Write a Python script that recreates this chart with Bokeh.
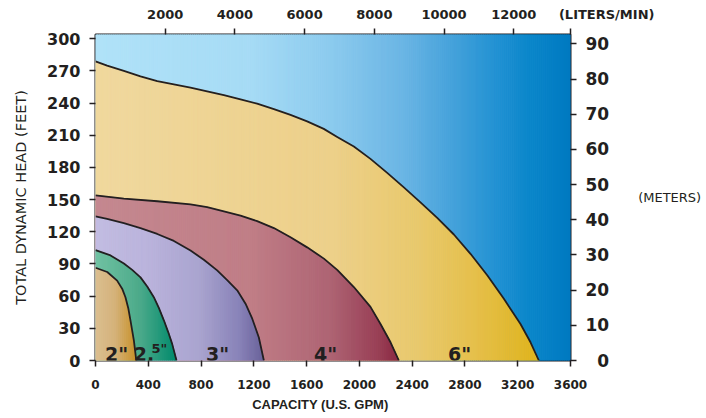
import numpy as np
from bokeh.plotting import figure
from bokeh.models import Range1d, LinearAxis, FixedTicker
from bokeh.embed import file_html
from bokeh.resources import INLINE
from bokeh.core.properties import value

# ---------------- data ----------------
gpm_6in = [0, 88, 215, 341, 468, 594, 720, 846, 973, 1099, 1225, 1352, 1478, 1604, 1730, 1832,
           1958, 2084, 2211, 2337, 2463, 2590, 2716, 2842, 2969, 3095, 3221, 3297, 3360]
ft_6in = [279, 275, 270, 265, 260.5, 257.5, 254.5, 251, 247.5, 243.5, 239.5, 234.5, 229, 223, 216, 208.5,
          199.5, 188, 175, 161.5, 147.5, 133, 117.5, 99.5, 79.5, 57.5, 34, 17, 0]

gpm_4in = [0, 215, 468, 720, 846, 973, 1099, 1225, 1352, 1478, 1604, 1731, 1832, 1958, 2084, 2160, 2236, 2299]
ft_4in = [154, 151, 148.5, 145.5, 143, 139, 135, 130, 123.5, 115, 105.5, 95, 84.5, 68.5, 50, 34, 17, 0]

gpm_3in = [0, 88, 215, 341, 468, 594, 720, 821, 922, 998, 1074, 1137, 1188, 1238, 1276]
ft_3in = [134.5, 132, 128, 123.5, 118, 111.5, 102.5, 94, 84, 75, 65.5, 53, 39, 21.5, 0]

gpm_25in = [0, 114, 215, 278, 341, 392, 442, 480, 518, 551, 581, 614]
ft_25in = [103, 98, 90.5, 84.5, 77.5, 69, 59, 49, 37.5, 26.5, 15.5, 0]

gpm_2in = [0, 89, 164, 202, 227, 248, 265, 291, 309]
ft_2in = [86.5, 82.5, 74.5, 67, 59, 49, 37.5, 18.5, 0]

size_labels = ['2"', '3"', '4"', '6"']
size_label_gpm = [159, 925, 1744, 2760]

feet_ticks = [0, 30, 60, 90, 120, 150, 180, 210, 240, 270, 300]
gpm_ticks = [0, 400, 800, 1200, 1600, 2000, 2400, 2800, 3200, 3600]
lpm_ticks = [2000, 4000, 6000, 8000, 10000, 12000]
meter_ticks = [0, 10, 20, 30, 40, 50, 60, 70, 80, 90]
lpm_unit = "(LITERS/MIN)"

GPM_MAX = 3600
FT_MAX = 304
LPM_PER_GPM = 3.78541
FT_PER_M = 3.28084
LPM_MAX = GPM_MAX * LPM_PER_GPM

# ---------------- styles ----------------
INK = "#231f20"
NBSP = "\u00a0"
sky_stops = [(0, "#b0e2f8"), (1175, "#a6dbf5"), (1781, "#8ccbee"), (2312, "#6cb6e5"),
             (2767, "#3f9fd9"), (3070, "#1f90d2"), (3297, "#0a86ca"), (3600, "#0079c1")]
stops_6 = [(0, "#f0d89e"), (1781, "#edd08a"), (2463, "#e9c96c"), (2918, "#e5bf48"), (3360, "#e0b41c")]
stops_4 = [(0, "#c48890"), (1175, "#c07e87"), (1781, "#ae6474"), (2160, "#983e55"), (2300, "#8a2842")]
stops_3 = [(0, "#c2bde2"), (417, "#bab3dc"), (796, "#a9a4cf"), (1099, "#8882b8"), (1276, "#6a629a")]
stops_25 = [(0, "#72c3a3"), (341, "#4caa8a"), (614, "#008a6c")]
stops_2 = [(0, "#dcbf91"), (152, "#d5b27a"), (308, "#c8922a")]


def hex2rgb(h):
    return [int(h[i:i + 2], 16) for i in (1, 3, 5)]


def grad_colors(xs, stops):
    sx = [s[0] for s in stops]
    cols = np.array([hex2rgb(s[1]) for s in stops], dtype=float)
    out = []
    for x in xs:
        r, g, b = (np.interp(x, sx, cols[:, k]) for k in range(3))
        out.append("#%02x%02x%02x" % (int(round(r)), int(round(g)), int(round(b))))
    return out


p = figure(frame_width=475, frame_height=326,
           min_border_left=95, min_border_right=134, min_border_top=34, min_border_bottom=56,
           x_range=Range1d(0, GPM_MAX), y_range=Range1d(0, FT_MAX),
           output_backend="svg", toolbar_location=None)
p.extra_x_ranges = {"lpm": Range1d(0, LPM_MAX)}
p.extra_y_ranges = {"m": Range1d(0, FT_MAX / FT_PER_M)}
p.xgrid.visible = False
p.ygrid.visible = False
p.outline_line_color = INK
p.outline_line_width = 2
p.background_fill_color = "white"
p.border_fill_color = "white"

# sky background gradient
step = 15
edges = np.arange(0, GPM_MAX + step, step)
mids = (edges[:-1] + edges[1:]) / 2
cols = grad_colors(mids, sky_stops)
p.quad(left=edges[:-1], right=edges[1:], bottom=0, top=FT_MAX, fill_color=cols, line_color=cols, line_width=1)


def region(gx, gy, stops):
    xend = gx[-1]
    n = int(np.ceil(xend / step))
    e = np.linspace(0, xend, n + 1)
    tops = np.interp(e, gx, gy)
    xs = [[e[i], e[i + 1], e[i + 1], e[i]] for i in range(n)]
    ys = [[0, 0, tops[i + 1], tops[i]] for i in range(n)]
    c = grad_colors((e[:-1] + e[1:]) / 2, stops)
    p.patches(xs, ys, fill_color=c, line_color=c, line_width=1)


region(gpm_6in, ft_6in, stops_6)
region(gpm_4in, ft_4in, stops_4)
region(gpm_3in, ft_3in, stops_3)
region(gpm_25in, ft_25in, stops_25)
region(gpm_2in, ft_2in, stops_2)

for gx, gy in [(gpm_6in, ft_6in), (gpm_4in, ft_4in), (gpm_3in, ft_3in), (gpm_25in, ft_25in), (gpm_2in, ft_2in)]:
    p.line(gx, gy, line_color=INK, line_width=1.8, line_join="round")

# size labels
FONT = value("DejaVu Sans")
p.text(x=size_label_gpm, y=[6.5] * 4, text=size_labels, text_font=FONT, text_font_size="19px",
       text_font_style="bold", text_align="center", text_baseline="alphabetic", text_color=INK)
p.text(x=[445], y=[6.5], text=["2."], text_font=FONT, text_font_size="19px",
       text_font_style="bold", text_align="right", text_baseline="alphabetic", text_color=INK)
p.text(x=[424], y=[10.9], text=['5"'], text_font=FONT, text_font_size="13px",
       text_font_style="bold", text_align="left", text_baseline="alphabetic", text_color=INK)


def style_axis(ax, size, ticks, standoff):
    ax.ticker = FixedTicker(ticks=ticks)
    ax.axis_line_color = None
    ax.major_tick_line_color = INK
    ax.major_tick_line_width = 1.5
    ax.major_tick_out = 6
    ax.major_tick_in = 0
    ax.minor_tick_line_color = None
    ax.major_label_text_font = "DejaVu Sans"
    ax.major_label_text_font_size = size
    ax.major_label_text_font_style = "bold"
    ax.major_label_text_color = INK
    ax.major_label_standoff = standoff


def style_title(ax, text, font, size, style, standoff):
    ax.axis_label = text
    ax.axis_label_text_font = font
    ax.axis_label_text_font_size = size
    ax.axis_label_text_font_style = style
    ax.axis_label_text_color = INK
    ax.axis_label_standoff = standoff


style_axis(p.yaxis[0], "16px", feet_ticks, 9)
style_title(p.yaxis[0], "TOTAL DYNAMIC HEAD (FEET)", "DejaVu Sans", "14.5px", "normal", 15)

style_axis(p.xaxis[0], "12px", gpm_ticks, 13)
style_title(p.xaxis[0], "CAPACITY (U.S. GPM)" + NBSP * 7, "Liberation Sans", "13px", "bold", 5)

top_ax = LinearAxis(x_range_name="lpm")
style_axis(top_ax, "13px", lpm_ticks + [LPM_MAX], 7)
top_ax.major_label_overrides = {LPM_MAX: NBSP * 16 + lpm_unit}
p.add_layout(top_ax, "above")

right_ax = LinearAxis(y_range_name="m")
style_axis(right_ax, "17px", meter_ticks, 9)
right_ax.major_label_overrides = {0: NBSP * 2 + "0"}
style_title(right_ax, "(METERS)", "DejaVu Sans", "13px", "normal", 26)
right_ax.axis_label_orientation = "horizontal"
p.add_layout(right_ax, "right")

open("out.html", "w").write(file_html(p, INLINE))
